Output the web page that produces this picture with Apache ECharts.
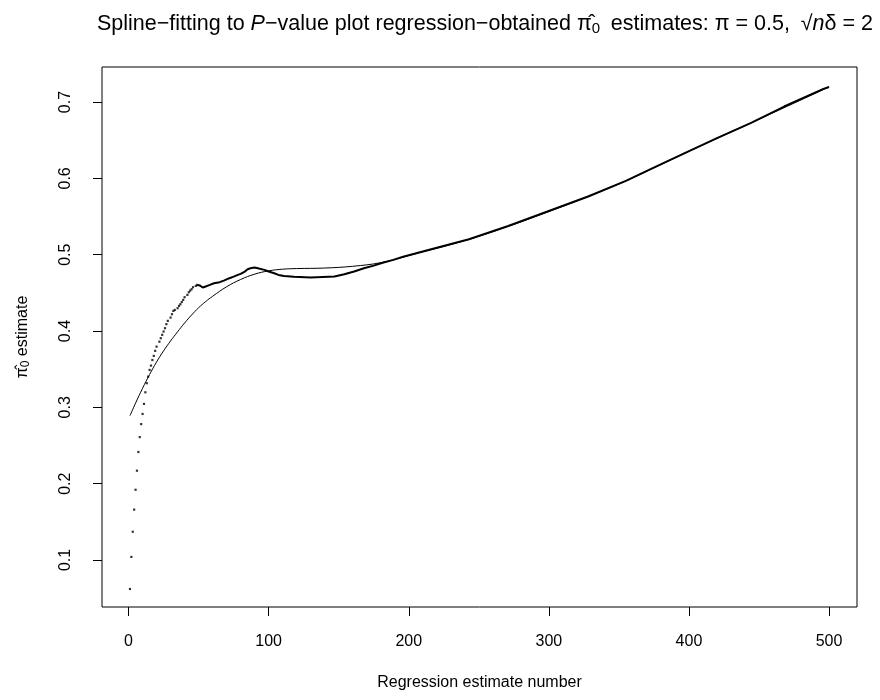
<!DOCTYPE html>
<html>
<head>
<meta charset="utf-8">
<script src="https://cdn.jsdelivr.net/npm/echarts@6/dist/echarts.min.js"></script>
<style>
  html, body { margin: 0; padding: 0; background: #fff; }
  #chart { width: 880px; height: 700px; }
</style>
</head>
<body>
<div id="chart"></div>
<script>
// early estimates, drawn as separate dots
const dotIdx = [1, 2, 3, 4, 5, 6, 7, 8, 9, 10, 11, 12, 13, 14, 15, 16, 17, 18, 19, 20,
  22, 23, 24, 25, 26, 27, 28, 30, 31, 32, 33, 35, 36, 37, 38, 39, 40, 42, 43, 44, 45, 46, 48, 49];
const dotVal = [0.062, 0.104, 0.137, 0.166, 0.192, 0.217, 0.2415, 0.261, 0.278, 0.2913,
  0.3045, 0.3197, 0.3316, 0.3402, 0.349, 0.3547, 0.362, 0.3674, 0.374, 0.3795,
  0.386, 0.3906, 0.395, 0.3993, 0.4037, 0.409, 0.4133, 0.4176, 0.422, 0.4263,
  0.4276, 0.4299, 0.4329, 0.4351, 0.438, 0.4408, 0.4443, 0.4473, 0.4508, 0.453,
  0.4548, 0.4574, 0.4591, 0.4604];

// later estimates, dots so close they read as a line
const lineIdx = [49, 51, 53, 55, 58, 61, 65, 68, 72, 75, 78, 80, 83, 85, 87, 90, 93, 97, 100,
  104, 107, 111, 118, 130, 147, 154, 161, 168, 175, 182, 189, 196, 214, 243, 271, 299,
  328, 355, 373, 397, 420, 444, 468, 496, 500];
const lineVal = [0.4604, 0.4595, 0.457, 0.4583, 0.4604, 0.4626, 0.464, 0.466, 0.4692, 0.4713,
  0.4735, 0.4748, 0.4779, 0.481, 0.4823, 0.4831, 0.4818, 0.4801, 0.4779,
  0.4757, 0.4735, 0.4722, 0.4711, 0.47, 0.4713, 0.4744, 0.4779, 0.4823, 0.4857, 0.4897,
  0.4932, 0.4975, 0.5063, 0.5203, 0.5377, 0.5565, 0.5762, 0.5967, 0.6124, 0.633,
  0.6527, 0.6723, 0.6941, 0.7173, 0.7197];

// fitted spline
const splineIdx = [1, 5, 10, 15, 20, 25, 30, 35, 40, 45, 50, 55, 60, 70, 80, 90, 100, 110, 120,
  140, 160, 180, 200, 250, 300, 350, 400, 450, 500];
const splineVal = [0.289, 0.3055, 0.325, 0.343, 0.3595, 0.374, 0.387, 0.399, 0.4105, 0.421,
  0.4305, 0.4385, 0.4455, 0.458, 0.4675, 0.4745, 0.4788, 0.481, 0.4818, 0.4825, 0.4848,
  0.4895, 0.4985, 0.524, 0.5565, 0.5928, 0.6355, 0.6775, 0.7197];

const xTicks = [0, 100, 200, 300, 400, 500];
const yTicks = [0.1, 0.2, 0.3, 0.4, 0.5, 0.6, 0.7];

const font = 'Liberation Sans, Arial, Helvetica, sans-serif';
const pairs = (xs, ys) => xs.map((x, i) => [x, ys[i]]);

const chart = echarts.init(document.getElementById('chart'));

chart.setOption({
  animation: false,
  backgroundColor: '#fff',
  title: {
    left: 92,
    top: 7,
    text: '{t|Spline−fitting to }{i|P}{t|−value plot regression−obtained }{t|π̂}{s|0}' +
      '{t|\u2002estimates: π = 0.5,\u2002√}{i|n}{t|δ = 2}',
    textStyle: {
      fontFamily: font,
      fontWeight: 'normal',
      color: '#000',
      rich: {
        t: { fontSize: 21.5, fontFamily: font, color: '#000' },
        i: { fontSize: 21.5, fontFamily: font, fontStyle: 'italic', color: '#000' },
        s: { fontSize: 15, fontFamily: font, color: '#000', padding: [9, 0, 0, 0] }
      }
    }
  },
  grid: {
    left: 102,
    right: 23,
    top: 67,
    bottom: 93,
    show: true,
    borderColor: '#000',
    borderWidth: 1,
    backgroundColor: 'transparent'
  },
  xAxis: {
    type: 'value',
    min: -18.96,
    max: 519.96,
    name: 'Regression estimate number',
    nameLocation: 'middle',
    nameGap: 68,
    nameTextStyle: { fontFamily: font, fontSize: 16, color: '#000' },
    axisLine: { show: false, onZero: false },
    splitLine: { show: false },
    axisTick: { show: true, length: 9, customValues: xTicks, lineStyle: { color: '#000' } },
    axisLabel: { customValues: xTicks, margin: 27, fontFamily: font, fontSize: 16, color: '#000' }
  },
  yAxis: {
    type: 'value',
    min: 0.0384,
    max: 0.7459,
    name: '{t|π̂}{s|0}{t| estimate}',
    nameLocation: 'middle',
    nameGap: 70,
    nameRotate: 90,
    nameTextStyle: {
      fontFamily: font,
      fontSize: 16,
      color: '#000',
      rich: {
        t: { fontSize: 16, fontFamily: font, color: '#000' },
        s: { fontSize: 12, fontFamily: font, color: '#000', padding: [7, 0, 0, 0] }
      }
    },
    axisLine: { show: false, onZero: false },
    splitLine: { show: false },
    axisTick: { show: true, length: 9, customValues: yTicks, lineStyle: { color: '#000' } },
    axisLabel: {
      customValues: yTicks,
      rotate: 90,
      margin: 28,
      fontFamily: font,
      fontSize: 16,
      color: '#000',
      formatter: v => v.toFixed(1)
    }
  },
  series: [
    {
      name: 'estimates',
      type: 'scatter',
      symbol: 'rect',
      symbolSize: 2.2,
      itemStyle: { color: '#000' },
      data: pairs(dotIdx, dotVal)
    },
    {
      name: 'estimates (dense)',
      type: 'line',
      showSymbol: false,
      lineStyle: { color: '#000', width: 2 },
      data: pairs(lineIdx, lineVal)
    },
    {
      name: 'spline',
      type: 'line',
      showSymbol: false,
      smooth: 0.4,
      lineStyle: { color: '#000', width: 1 },
      data: pairs(splineIdx, splineVal)
    }
  ]
});
</script>
</body>
</html>
